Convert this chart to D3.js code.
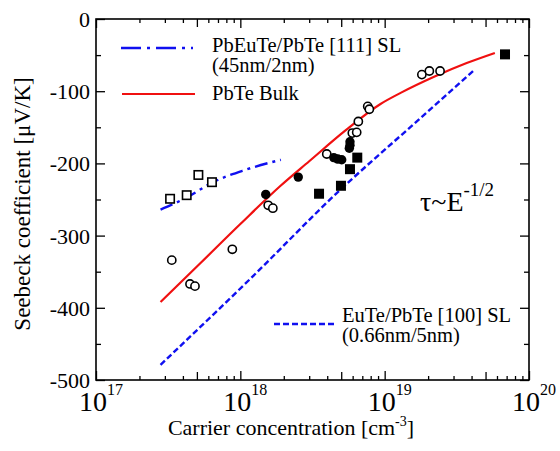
<html>
<head><meta charset="utf-8"></head>
<style>
  html, body { margin: 0; background: #fff; }
  svg { display: block; }
  text { font-family: "Liberation Serif", "DejaVu Serif", serif; fill: #000; }
</style>
<body>
<svg width="560" height="451"></svg>

<script src="https://cdnjs.cloudflare.com/ajax/libs/d3/7.8.5/d3.min.js"></script>
<script>
  // axis ticks
  const xMajor = [1e17, 1e18, 1e19, 1e20];
  const xMajorExp = ["17", "18", "19", "20"];
  const yMajor = [0, -100, -200, -300, -400, -500];

  // model curves [carrier conc, seebeck]
  const bulkLine  = [[2.8e17,-392],[5.3e17,-338],[1.0e18,-284],[1.9e18,-231],[3.0e18,-197],[5.3e18,-155],[9.3e18,-118],[1.3e19,-102],[2.2e19,-80],[3.7e19,-61],[5.8e19,-47]];
  const sl100Line = [[2.8e17,-479],[1.17e18,-360],[4.9e18,-237],[1.5e19,-150],[4.1e19,-72]];
  const sl111Line = [[2.8e17,-264],[4.27e17,-247],[6.47e17,-226],[1.08e18,-209],[1.91e18,-195]];

  // measured points
  const openCircles   = [[3.35e17,-334],[4.48e17,-367],[4.85e17,-370],[8.8e17,-319],[1.56e18,-258],[1.68e18,-262],[3.97e18,-187],[5.97e18,-158],[6.4e18,-157],[6.57e18,-142],[7.63e18,-121],[7.83e18,-125],[1.81e19,-77],[2.04e19,-72],[2.42e19,-72]];
  const filledCircles = [[1.5e18,-243],[2.52e18,-219],[4.44e18,-192],[4.73e18,-194],[5.04e18,-195],[5.75e18,-170],[5.75e18,-175],[5.69e18,-179]];
  const filledSquares = [[3.51e18,-242],[4.98e18,-231],[5.75e18,-208],[6.46e18,-192],[6.82e19,-49]];
  const openSquares   = [[3.26e17,-249],[4.25e17,-244],[5.12e17,-216],[6.36e17,-226]];

  const L = 96, R = 529, T = 19, B = 380;
  const svg = d3.select("svg");

  const x = d3.scaleLog().domain([1e17, 1e20]).range([L, R]);
  const y = d3.scaleLinear().domain([-500, 0]).range([B, T]);

  // minor tick values
  const xMinor = [], xMid = [];
  for (let e = 17; e < 20; e++) {
    for (let m = 2; m <= 9; m++) {
      if (m === 5) xMid.push(5 * Math.pow(10, e));
      else xMinor.push(m * Math.pow(10, e));
    }
  }
  const yMinor = d3.range(-450, 0, 100);

  function tickAxis(axisFn, scale, vals, len, tr) {
    svg.append("g")
      .attr("transform", tr)
      .call(axisFn(scale).tickValues(vals).tickSize(len).tickFormat(""))
      .call(g => g.select(".domain").remove())
      .selectAll("line").attr("stroke", "#000").attr("stroke-width", 1.3);
  }
  tickAxis(d3.axisBottom, x, xMajor, -9, `translate(0,${B})`);
  tickAxis(d3.axisBottom, x, xMid, -8, `translate(0,${B})`);
  tickAxis(d3.axisBottom, x, xMinor, -4, `translate(0,${B})`);
  tickAxis(d3.axisTop, x, xMajor, -9, `translate(0,${T})`);
  tickAxis(d3.axisTop, x, xMid, -8, `translate(0,${T})`);
  tickAxis(d3.axisTop, x, xMinor, -4, `translate(0,${T})`);
  tickAxis(d3.axisLeft, y, yMajor, -9, `translate(${L},0)`);
  tickAxis(d3.axisLeft, y, yMinor, -5, `translate(${L},0)`);
  tickAxis(d3.axisRight, y, yMajor, -9, `translate(${R},0)`);
  tickAxis(d3.axisRight, y, yMinor, -5, `translate(${R},0)`);

  // frame
  svg.append("rect")
    .attr("x", L).attr("y", T).attr("width", R - L).attr("height", B - T)
    .attr("fill", "none").attr("stroke", "#000").attr("stroke-width", 1.6);

  // tick labels
  svg.selectAll(".ylab").data(yMajor).join("text")
    .attr("x", L - 6).attr("y", d => y(d) + 8)
    .attr("text-anchor", "end").attr("font-size", 22)
    .text(d => d);

  const xl = svg.selectAll(".xlab").data(xMajor).join("text")
    .attr("x", d => x(d) - 17).attr("y", 411)
    .attr("font-size", 28);
  xl.append("tspan").text("10");
  xl.append("tspan").attr("dy", -16).attr("font-size", 16).text((d, i) => xMajorExp[i]);

  // axis titles
  const xt = svg.append("text").attr("x", 291).attr("y", 435)
    .attr("text-anchor", "middle").attr("font-size", 22);
  xt.append("tspan").text("Carrier concentration [cm");
  xt.append("tspan").attr("dy", -9).attr("font-size", 14).text("-3");
  xt.append("tspan").attr("dy", 9).text("]");

  svg.append("text")
    .attr("transform", "translate(30,204) rotate(-90)")
    .attr("text-anchor", "middle").attr("font-size", 23)
    .text("Seebeck coefficient [\u03bcV/K]");

  // curves
  const line = d3.line().x(d => x(d[0])).y(d => y(d[1])).curve(d3.curveMonotoneX);
  svg.append("path").datum(bulkLine).attr("d", line)
    .attr("fill", "none").attr("stroke", "#f01010").attr("stroke-width", 2.2);
  svg.append("path").datum(sl100Line).attr("d", line)
    .attr("fill", "none").attr("stroke", "#1010f0").attr("stroke-width", 2.4)
    .attr("stroke-dasharray", "6,3");
  svg.append("path").datum(sl111Line).attr("d", line)
    .attr("fill", "none").attr("stroke", "#1010f0").attr("stroke-width", 2.4)
    .attr("stroke-dasharray", "13,5,3,5");

  // markers
  svg.selectAll(".oc").data(openCircles).join("circle")
    .attr("cx", d => x(d[0])).attr("cy", d => y(d[1])).attr("r", 4.1)
    .attr("fill", "#fff").attr("stroke", "#000").attr("stroke-width", 1.6);
  svg.selectAll(".fc").data(filledCircles).join("circle")
    .attr("cx", d => x(d[0])).attr("cy", d => y(d[1])).attr("r", 4.7)
    .attr("fill", "#000");
  svg.selectAll(".fs").data(filledSquares).join("rect")
    .attr("x", d => x(d[0]) - 5).attr("y", d => y(d[1]) - 5)
    .attr("width", 10).attr("height", 10).attr("fill", "#000");
  svg.selectAll(".os").data(openSquares).join("rect")
    .attr("x", d => x(d[0]) - 4.2).attr("y", d => y(d[1]) - 4.2)
    .attr("width", 8.4).attr("height", 8.4)
    .attr("fill", "#fff").attr("stroke", "#000").attr("stroke-width", 1.6);

  // legend
  svg.append("line").attr("x1", 121).attr("x2", 193).attr("y1", 48).attr("y2", 48)
    .attr("stroke", "#1010f0").attr("stroke-width", 2.4).attr("stroke-dasharray", "20,6,3,6");
  svg.append("text").attr("x", 212).attr("y", 52).attr("font-size", 20.5).text("PbEuTe/PbTe [111] SL");
  svg.append("text").attr("x", 212).attr("y", 72).attr("font-size", 20.5).text("(45nm/2nm)");

  svg.append("line").attr("x1", 122).attr("x2", 195).attr("y1", 94).attr("y2", 94)
    .attr("stroke", "#f01010").attr("stroke-width", 2.2);
  svg.append("text").attr("x", 212).attr("y", 100).attr("font-size", 20.5).text("PbTe Bulk");

  svg.append("line").attr("x1", 274).attr("x2", 334).attr("y1", 324).attr("y2", 324)
    .attr("stroke", "#1010f0").attr("stroke-width", 2.4).attr("stroke-dasharray", "6,3");
  svg.append("text").attr("x", 342).attr("y", 322).attr("font-size", 20.5).text("EuTe/PbTe [100] SL");
  svg.append("text").attr("x", 342).attr("y", 342).attr("font-size", 20.5).text("(0.66nm/5nm)");

  const tau = svg.append("text").attr("x", 420).attr("y", 211).attr("font-size", 28);
  tau.append("tspan").text("\u03c4~E");
  tau.append("tspan").attr("dy", -15).attr("font-size", 19).text("-1/2");
</script>
</body>
</html>
